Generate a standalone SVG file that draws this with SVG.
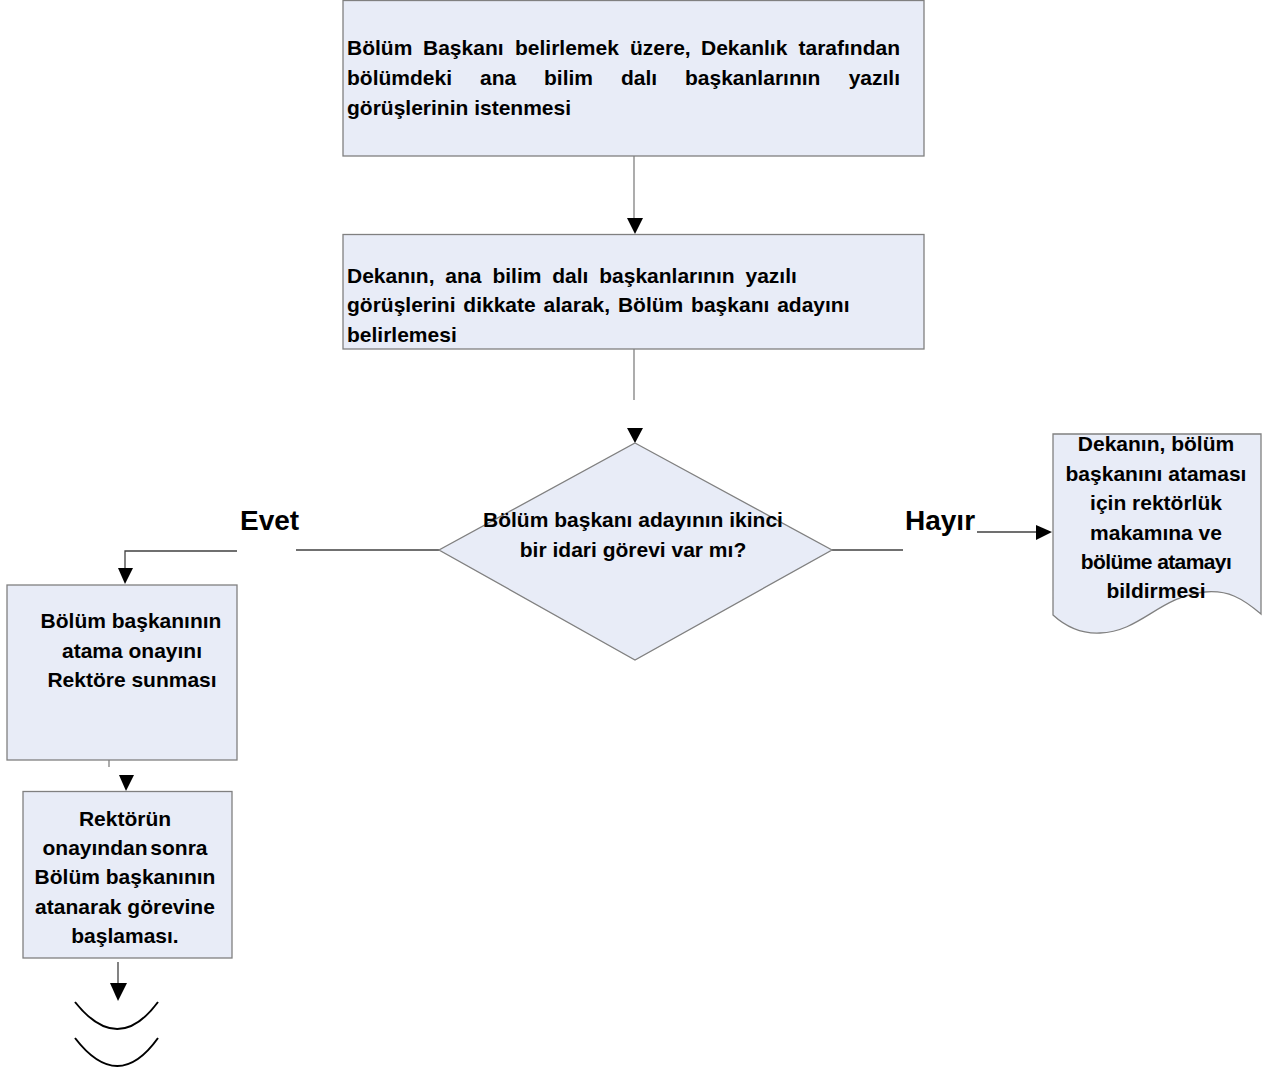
<svg xmlns="http://www.w3.org/2000/svg" width="1277" height="1073" viewBox="0 0 1277 1073">
<style>
.box{fill:#e8ecf7;stroke:#808080;stroke-width:1.3}
.t{font-family:"Liberation Sans",Arial,sans-serif;font-weight:bold;font-size:21px;fill:#000}
.c{text-anchor:middle}
.lbl{font-family:"Liberation Sans",Arial,sans-serif;font-weight:bold;font-size:28px;fill:#000}
.ln{fill:none;stroke:#808080;stroke-width:1.3}
.dk{fill:none;stroke:#404040;stroke-width:1.3}
.ah{fill:#000}
.arc{fill:none;stroke:#000;stroke-width:2}
</style>
<rect width="1277" height="1073" fill="#fff"/>
<g id="connectors">
<line class="ln" x1="634" y1="156" x2="634" y2="220"/>
<polygon class="ah" points="627,218 643,218 635,234"/>
<line class="ln" x1="634" y1="349" x2="634" y2="400"/>
<polygon class="ah" points="627,428 643,428 635,443"/>
<line class="dk" x1="439" y1="550" x2="296" y2="550"/>
<polyline class="dk" points="237,551 125,551 125,569"/>
<polygon class="ah" points="118,568 133,568 125,584"/>
<line class="ln" x1="109" y1="760" x2="109" y2="767"/>
<polygon class="ah" points="119,775 134,775 126,791"/>
<line class="dk" x1="118" y1="962" x2="118" y2="984"/>
<polygon class="ah" points="110,983 127,983 118,1001"/>
<line class="dk" x1="832" y1="550" x2="903" y2="550"/>
<line class="dk" x1="977" y1="532" x2="1037" y2="532"/>
<polygon class="ah" points="1036,525 1036,540 1052,532"/>
</g>
<g id="n1">
<rect class="box" x="343" y="0.5" width="581" height="155.5"/>
<text class="t" y="55"><tspan x="347">Bölüm</tspan><tspan x="423">Başkanı</tspan><tspan x="515">belirlemek</tspan><tspan x="630">üzere,</tspan><tspan x="701">Dekanlık</tspan></text>
<text class="t" x="900" y="55" text-anchor="end">tarafından</text>
<text class="t" y="85"><tspan x="347">bölümdeki</tspan><tspan x="480">ana</tspan><tspan x="544">bilim</tspan><tspan x="621">dalı</tspan><tspan x="685">başkanlarının</tspan></text>
<text class="t" x="900" y="85" text-anchor="end">yazılı</text>
<text class="t" x="347" y="115">görüşlerinin istenmesi</text>
</g>
<g id="n2">
<rect class="box" x="343" y="234.5" width="581" height="114.5"/>
<text class="t" x="347" y="283" word-spacing="5">Dekanın, ana bilim dalı başkanlarının yazılı</text>
<text class="t" x="347" y="312" word-spacing="2">görüşlerini dikkate alarak, Bölüm başkanı adayını</text>
<text class="t" x="347" y="342">belirlemesi</text>
</g>
<g id="n3">
<polygon class="box" points="635,443 832,550 635,660 439,550"/>
<text class="t c" x="633" y="527">Bölüm başkanı adayının ikinci</text>
<text class="t c" x="633" y="557">bir idari görevi var mı?</text>
</g>
<g id="lbl-evet">
<text class="lbl" x="240" y="530">Evet</text>
</g>
<g id="lbl-hayir">
<text class="lbl" x="905" y="530">Hayır</text>
</g>
<g id="n4">
<path class="box" d="M1053,434 H1261 V614 C1242,598 1228,590 1205,592 C1160,596 1140,632 1100,633 C1080,634 1065,626 1053,615 Z"/>
<text class="t c" x="1156" y="451">Dekanın, bölüm</text>
<text class="t c" x="1156" y="481">başkanını ataması</text>
<text class="t c" x="1156" y="510">için rektörlük</text>
<text class="t c" x="1156" y="540">makamına ve</text>
<text class="t c" x="1156" y="569" letter-spacing="-0.6">bölüme atamayı</text>
<text class="t c" x="1156" y="598">bildirmesi</text>
</g>
<g id="n5">
<rect class="box" x="7" y="585" width="230" height="175"/>
<text class="t c" x="131" y="628">Bölüm başkanının</text>
<text class="t c" x="132" y="658">atama onayını</text>
<text class="t c" x="132" y="687">Rektöre sunması</text>
</g>
<g id="n6">
<rect class="box" x="23" y="791.5" width="209" height="166.5"/>
<text class="t c" x="125" y="826">Rektörün</text>
<text class="t c" x="125" y="855" word-spacing="-3">onayından sonra</text>
<text class="t c" x="125" y="884">Bölüm başkanının</text>
<text class="t c" x="125" y="914">atanarak görevine</text>
<text class="t c" x="125" y="943">başlaması.</text>
</g>
<g id="n7">
<path class="arc" d="M75,1002 Q118,1056 158,1002"/>
<path class="arc" d="M75,1038 Q118,1094 158,1038"/>
</g>
</svg>
